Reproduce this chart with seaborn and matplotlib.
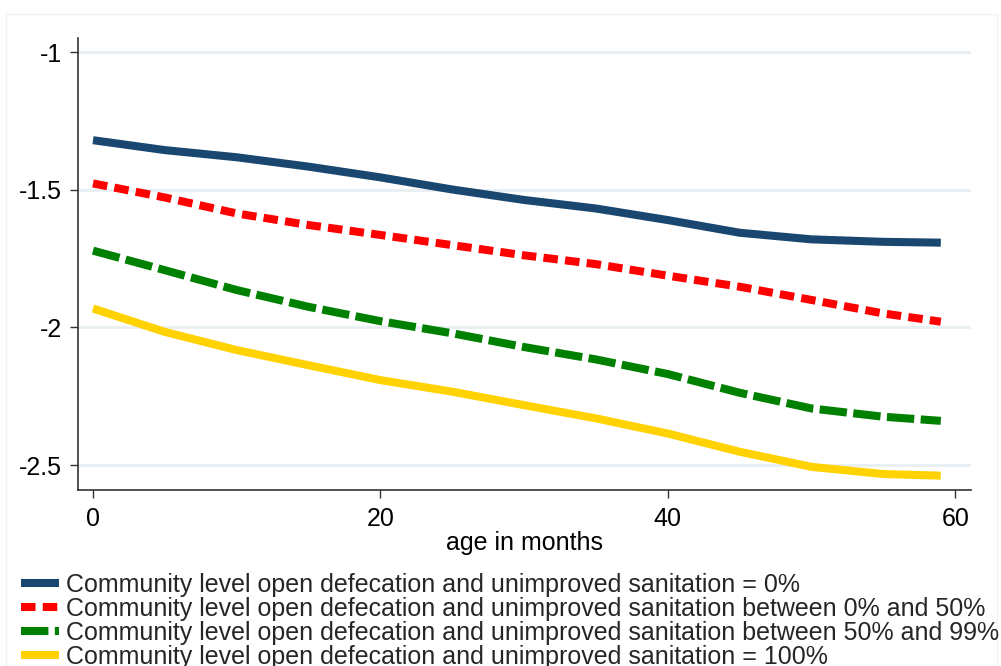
import matplotlib
matplotlib.use("Agg")
import matplotlib.pyplot as plt
import seaborn as sns
import pandas as pd
from matplotlib.patches import Rectangle

# ---- data ----
age = [0, 5, 10, 15, 20, 25, 30, 35, 40, 45, 50, 55, 59]
s_0 = [-1.320, -1.356, -1.382, -1.416, -1.455, -1.499, -1.537, -1.568, -1.610, -1.656, -1.680, -1.689, -1.692]
s_0_50 = [-1.477, -1.528, -1.586, -1.628, -1.664, -1.701, -1.738, -1.770, -1.812, -1.852, -1.900, -1.949, -1.979]
s_50_99 = [-1.721, -1.792, -1.864, -1.925, -1.977, -2.021, -2.071, -2.116, -2.169, -2.237, -2.294, -2.324, -2.339]
s_100 = [-1.931, -2.016, -2.082, -2.137, -2.191, -2.233, -2.282, -2.330, -2.385, -2.451, -2.506, -2.532, -2.538]

labels = [
    "Community level open defecation and unimproved sanitation = 0%",
    "Community level open defecation and unimproved sanitation between 0% and 50%",
    "Community level open defecation and unimproved sanitation between 50% and 99%",
    "Community level open defecation and unimproved sanitation = 100%",
]
colors = ["#1a476f", "#ff0000", "#008000", "#ffd200"]
dash_styles = ["", (1.8, 0.9), (3.4, 0.8), ""]
xticks = [0, 20, 40, 60]
yticks = [-1, -1.5, -2, -2.5]
ytick_labels = ["-1", "-1.5", "-2", "-2.5"]
xlabel = "age in months"

series = [s_0, s_0_50, s_50_99, s_100]
rows = []
for lab, vals in zip(labels, series):
    for a, v in zip(age, vals):
        rows.append({"age": a, "value": v, "group": lab})
df = pd.DataFrame(rows)

sns.set_theme(style="white")
plt.rcParams["font.family"] = ["Liberation Sans", "DejaVu Sans"]
plt.rcParams["lines.solid_capstyle"] = "butt"
plt.rcParams["lines.dash_capstyle"] = "butt"
plt.rcParams["lines.solid_joinstyle"] = "round"

FS = 18
fig = plt.figure(figsize=(10.01, 6.66), dpi=100)
fig.patch.set_facecolor("white")
ax = fig.add_axes([78 / 1001, 1 - 490 / 666, (971 - 78) / 1001, (490 - 38) / 666])

sns.lineplot(
    data=df, x="age", y="value", hue="group", style="group",
    hue_order=labels, style_order=labels,
    palette=dict(zip(labels, colors)),
    dashes=dict(zip(labels, dash_styles)),
    linewidth=5.8, ax=ax, legend=True,
)

ax.set_xlim(-1.044, 61.10)
ax.set_ylim(-2.590, -0.949)
ax.set_xticks(xticks)
ax.set_xticklabels([str(t) for t in xticks])
ax.set_yticks(yticks)
ax.set_yticklabels(ytick_labels)
ax.set_xlabel(xlabel, fontsize=FS, labelpad=0, color="black")
ax.set_ylabel("")
ax.tick_params(axis="both", which="major", labelsize=FS, length=5.8, width=1.0,
               color="#333333", labelcolor="black", direction="out",
               bottom=True, left=True)
ax.tick_params(axis="y", pad=5.5)
ax.tick_params(axis="x", pad=6.5)
ax.grid(axis="y", color="#e8eff3", linewidth=2.0)
ax.grid(axis="x", visible=False)
ax.set_axisbelow(True)
for side in ["top", "right"]:
    ax.spines[side].set_visible(False)
for side in ["left", "bottom"]:
    ax.spines[side].set_color("#333333")
    ax.spines[side].set_linewidth(1.2)

handles, labs = ax.get_legend_handles_labels()
ax.get_legend().remove()
fig.legend(handles, labs, loc="upper left", bbox_to_anchor=(0.021, 1 - 573 / 666),
           frameon=False, fontsize=FS, handlelength=1.5, handletextpad=0.3,
           labelspacing=0.0, borderpad=0, borderaxespad=0)

fig.patches.append(Rectangle((6 / 1001, 0), (997 - 6) / 1001, 1 - 14 / 666,
                             transform=fig.transFigure, fill=False,
                             edgecolor="#eef3f5", linewidth=1.0))

fig.savefig("out.png", dpi=100)
